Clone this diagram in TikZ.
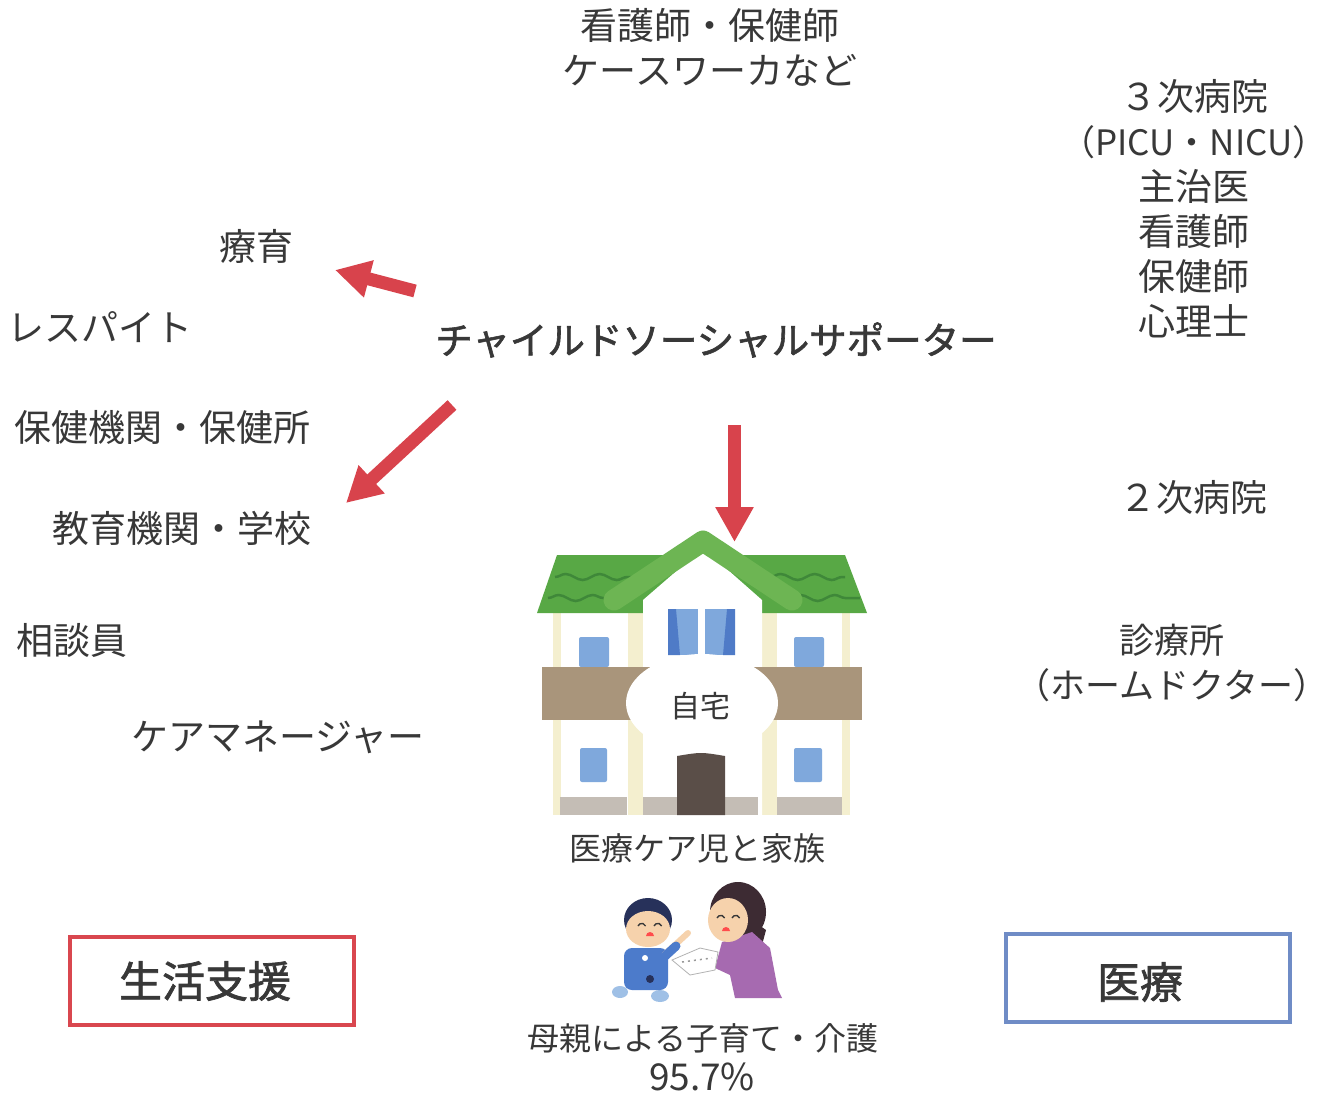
\documentclass[tikz,border=0pt]{standalone}
\usepackage{fontspec}
\setmainfont{Noto Sans CJK JP}
\newfontfamily\medfont[FakeBold=1.6]{Noto Sans CJK JP}
\usetikzlibrary{arrows.meta,decorations.pathmorphing}
\definecolor{ink}{HTML}{383838}
\definecolor{arrowred}{HTML}{D8434C}
\definecolor{boxred}{HTML}{D9474F}
\definecolor{boxblue}{HTML}{6F8CC6}
\definecolor{roofgreen}{HTML}{58A845}
\definecolor{wavegreen}{HTML}{3F8839}
\definecolor{gablegreen}{HTML}{6DB553}
\definecolor{wallcream}{HTML}{F4EFCF}
\definecolor{winblue}{HTML}{7FA8DC}
\definecolor{curtain}{HTML}{4F7BC7}
\definecolor{balcony}{HTML}{A9957B}
\definecolor{doorbrown}{HTML}{5A4E48}
\definecolor{basegray}{HTML}{C4BDB5}
\definecolor{skin}{HTML}{F6D2AC}
\definecolor{kidhair}{HTML}{27315A}
\definecolor{kidblue}{HTML}{4C7BCB}
\definecolor{sock}{HTML}{9FC0E6}
\definecolor{momhair}{HTML}{3D2B33}
\definecolor{mompurple}{HTML}{A66AB0}
\begin{document}
\begin{tikzpicture}[x=1pt,y=-1pt,
  every node/.style={text=ink, inner sep=0pt},
  lbl/.style={font=\fontsize{37}{45}\selectfont, align=center},
  sublbl/.style={font=\fontsize{32}{39}\selectfont, align=center},
  keylbl/.style={font=\fontsize{37.5}{40}\medfont},
  areabox/.style={draw, line width=3.5pt, minimum width=284pt, minimum height=88pt},
  arealbl/.style={font=\fontsize{43}{45}\medfont},
  redarrow/.style={draw=arrowred, line width=13pt, -{Triangle[width=36pt,length=35pt]}},
]
\useasboundingbox[fill=white] (0,0) rectangle (1337,1093);

% --- top: field staff ---
\node[lbl] (staff) at (710,47) {看護師・保健師\\ケースワーカなど};

% --- right column: medical side ---
\node[lbl] (tertiary) at (1194,208.5) {３次病院\\{\fontsize{35}{45}\selectfont（PICU・NICU）}\\主治医\\看護師\\保健師\\心理士};
\node[lbl] (secondary) at (1193,497) {２次病院};
\node[lbl, font=\fontsize{35}{45}\selectfont] (clinic) at (1172,663) {診療所\\（ホームドクター）};

% --- left column: life support side ---
\node[lbl] (ryoiku) at (256,246) {療育};
\node[lbl] (respite) at (100,327) {レスパイト};
\node[lbl] (health) at (162,427) {保健機関・保健所};
\node[lbl] (school) at (182,528) {教育機関・学校};
\node[lbl] (counsel) at (72,640) {相談員};
\node[lbl] (caremgr) at (278,737) {ケアマネージャー};

% --- central coordinator ---
\node[keylbl] (css) at (716,340) {チャイルドソーシャルサポーター};

% --- arrows from the coordinator ---
\coordinate (t1) at (415,291); \coordinate (h1) at (335,270);
\coordinate (t2) at (452,405); \coordinate (h2) at (346,503);
\coordinate (t3) at (734.5,425); \coordinate (h3) at (734.5,542);
\draw[redarrow] (t1) -- (h1);
\draw[redarrow] (t2) -- (h2);
\draw[redarrow] (t3) -- (h3);

% --- house ---
% side wings
\fill[white] (553,610) rectangle (630,815);
\fill[white] (777,610) rectangle (850,815);
\fill[wallcream] (553,610) rectangle (561,815);
\fill[wallcream] (628,610) rectangle (643,815);
\fill[wallcream] (762,610) rectangle (777,815);
\fill[wallcream] (842,610) rectangle (850,815);
% roof wings
\fill[roofgreen] (537,613) -- (557,555) -- (690,555) -- (690,613) -- cycle;
\fill[roofgreen] (720,555) -- (845,555) -- (867,613) -- (720,613) -- cycle;
\draw[wavegreen, line width=2.5pt, decorate, decoration={snake, amplitude=3pt, segment length=34pt}]
  (555,577) -- (640,577);
\draw[wavegreen, line width=2.5pt, decorate, decoration={snake, amplitude=3pt, segment length=34pt}]
  (548,598) -- (620,598);
\draw[wavegreen, line width=2.5pt, decorate, decoration={snake, amplitude=3pt, segment length=34pt}]
  (770,577) -- (845,577);
\draw[wavegreen, line width=2.5pt, decorate, decoration={snake, amplitude=3pt, segment length=34pt}]
  (790,598) -- (860,598);
% central gabled body
\fill[white] (643,815) -- (643,600) -- (703,548) -- (762,600) -- (762,815) -- cycle;
\draw[gablegreen, line width=21pt, line cap=round, line join=round]
  (614,600) -- (703,541) -- (792,600);
% upper windows
\fill[winblue, rounded corners=2pt] (579,637) rectangle (609,667);
\fill[winblue, rounded corners=2pt] (794,637) rectangle (824,667);
\fill[winblue] (668,609) rectangle (698,655);
\fill[winblue] (705,609) rectangle (735,655);
\fill[curtain] (668,609) -- (676,609) -- (680,655) -- (668,655) -- cycle;
\fill[curtain] (735,609) -- (727,609) -- (723,655) -- (735,655) -- cycle;
% balcony band
\fill[balcony] (542,667) rectangle (862,720);
% lower windows
\fill[winblue, rounded corners=2pt] (580,748) rectangle (607,782);
\fill[winblue, rounded corners=2pt] (794,748) rectangle (822,782);
% base strips
\fill[basegray] (560,797) rectangle (627,815);
\fill[basegray] (643,797) rectangle (677,815);
\fill[basegray] (725,797) rectangle (758,815);
\fill[basegray] (777,797) rectangle (842,815);
% door
\fill[doorbrown] (677,815) -- (677,756) .. controls (701,752) .. (725,756) -- (725,815) -- cycle;
% name plate
\fill[white] (702,703) ellipse [x radius=76, y radius=49];
\node[font=\fontsize{30}{32}\selectfont] (home) at (700,706) {自宅};

\node[sublbl] (family) at (697,848) {医療ケア児と家族};

% --- child and mother ---
% child
\fill[sock] (620,992) ellipse [x radius=8, y radius=6];
\fill[sock] (660,996) ellipse [x radius=9, y radius=6];
\fill[kidblue, rounded corners=8pt] (624,948) rectangle (668,990);
\fill[white] (645,958) circle (3);
\fill[kidhair] (650,979) circle (4);
\draw[skin, line width=6pt, line cap=round] (664,955) -- (688,933);
\draw[kidblue, line width=9pt, line cap=round] (664,957) -- (676,946);
\fill[kidhair] (648,920) ellipse [x radius=24, y radius=22];
\fill[skin] (648,929) ellipse [x radius=22, y radius=18];
\draw[ink, line width=1.4pt] (638,926) arc[start angle=200, end angle=340, radius=4];
\draw[ink, line width=1.4pt] (654,926) arc[start angle=200, end angle=340, radius=4];
\fill[red!70] (646,936) -- (654,936) arc[start angle=0, end angle=-180, radius=4] -- cycle;
% mother
\fill[momhair] (738,912) ellipse [x radius=28, y radius=30];
\fill[momhair] (745,915) -- (766,930) -- (762,945) -- (745,940) -- cycle;
\fill[mompurple] (722,942) -- (752,932) -- (770,948) -- (778,990) -- (782,998) -- (735,998) -- (730,975) -- (715,968) -- cycle;
\fill[skin] (728,920) ellipse [x radius=20, y radius=22];
\draw[ink, line width=1.4pt] (717,918) arc[start angle=200, end angle=340, radius=4];
\draw[ink, line width=1.4pt] (732,918) arc[start angle=200, end angle=340, radius=4];
\fill[red!70] (722,931) -- (730,931) arc[start angle=0, end angle=-180, radius=4] -- cycle;
% paper toy
\filldraw[draw=gray!60, fill=white, line width=0.8pt] (672,960) -- (700,948) -- (718,952) -- (715,970) -- (690,975) -- cycle;
\draw[gray!80, line width=1.5pt, dash pattern=on 2pt off 4pt] (682,962) -- (712,958);

\node[sublbl] (mother) at (703,1038) {母親による子育て・介護};
\node[font=\fontsize{37}{40}\selectfont] (ratio) at (702,1077) {95.7\%};

% --- domain boxes ---
\node[areabox, draw=boxred] (life) at (212,981) {};
\node[arealbl] (lifelbl) at (205,981) {生活支援};
\node[areabox, draw=boxblue] (medical) at (1148,978) {};
\node[arealbl] (medlbl) at (1140,982) {医療};
\end{tikzpicture}
\end{document}
